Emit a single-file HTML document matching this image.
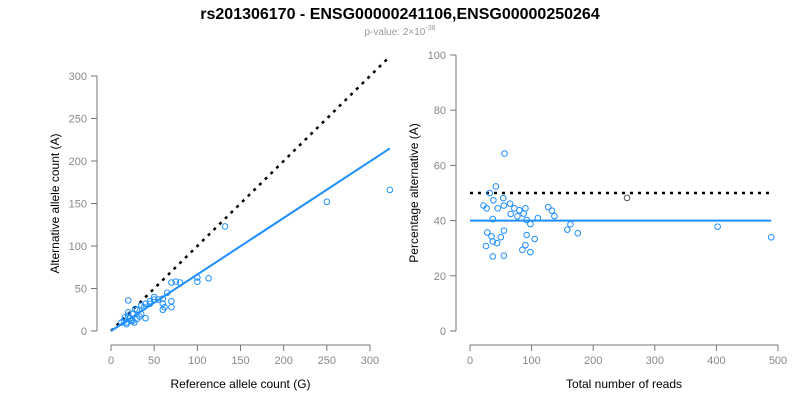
<!DOCTYPE html>
<html><head><meta charset="utf-8"><style>
body{margin:0;background:#fff;}
svg{display:block;font-family:"Liberation Sans",Arial,sans-serif;}
</style></head><body>
<svg id="c" width="800" height="400" viewBox="0 0 800 400">
<text x="400" y="19" text-anchor="middle" font-size="16" font-weight="bold">rs201306170 - ENSG00000241106,ENSG00000250264</text>
<text x="400" y="35" text-anchor="middle" font-size="10" fill="#999">p-value: 2×10<tspan dy="-5" font-size="7">-38</tspan></text>
</svg>
<script>
const refCounts=[323,250,132,113,100,100,70,75,60,60,62,60,70,70,50,50,45,40,35,30,20,25,20,15,18,25,30,35,40,45,28,22,16,12,20,55,38,33,27,23,18,80,65];
const altCounts=[166,152,123,62,63,58,57,58,38,32,28,25,35,28,40,37,35,32,30,25,36,20,18,12,10,12,14,20,15,32,26,15,16,10,22,37,28,17,10,12,8,57,45];
const leftXTicks=[0,50,100,150,200,250,300];
const leftYTicks=[0,50,100,150,200,250,300];
const rightXTicks=[0,100,200,300,400,500];
const rightYTicks=[0,20,40,60,80,100];
const fitSlope=[0.665];
const nullPct=[50];
const fitPct=[40];
const svg=document.getElementById('c');
const NS='http://www.w3.org/2000/svg';
function mk(t,a,p){const e=document.createElementNS(NS,t);for(const k in a)e.setAttribute(k,a[k]);(p||svg).appendChild(e);return e;}
const lx=v=>111+v*0.8633, ly=v=>331-v*0.85;
const rx=v=>470+v*0.616, ry=v=>331-v*2.76;
function axes(xf,yf,xt,yt,x0,y0,xlab,ylab,pre){
  const g=mk('g',{});
  
  
  mk('line',{x1:xf(xt[0]),x2:xf(xt[xt.length-1]),y1:y0,y2:y0,stroke:'#777'},g);
  mk('line',{x1:x0,x2:x0,y1:yf(yt[0]),y2:yf(yt[yt.length-1]),stroke:'#777'},g);
  xt.forEach(v=>{mk('line',{x1:xf(v),x2:xf(v),y1:y0,y2:y0+6,stroke:'#777'},g);
    const t=mk('text',{x:xf(v),y:y0+19,'text-anchor':'middle','font-size':11,fill:'#888'},g);t.textContent=v;
    
    });
  yt.forEach(v=>{mk('line',{x1:x0-6,x2:x0,y1:yf(v),y2:yf(v),stroke:'#777'},g);
    const t=mk('text',{x:x0-10,y:yf(v)+4,'text-anchor':'end','font-size':11,fill:'#888'},g);t.textContent=v;
    
    });
  const xl=mk('text',{x:(xf(xt[0])+xf(xt[xt.length-1]))/2,y:388,'text-anchor':'middle','font-size':12},g);xl.textContent=xlab;
  
  
  const cy=(yf(yt[0])+yf(yt[yt.length-1]))/2, cx=x0-38;
  const yl=mk('text',{x:cx,y:cy,'text-anchor':'middle','font-size':12,transform:`rotate(-90 ${cx} ${cy})`},g);yl.textContent=ylab;
  
  
}
axes(lx,ly,leftXTicks,leftYTicks,97,345,'Reference allele count (G)','Alternative allele count (A)','left');
axes(rx,ry,rightXTicks,rightYTicks,456,345,'Total number of reads','Percentage alternative (A)','right');
const maxRef=Math.max(...refCounts);
let l=mk('line',{x1:lx(0),y1:ly(0),x2:lx(maxRef),y2:ly(maxRef),stroke:'#000','stroke-width':2.5,'stroke-dasharray':'3 5'});


l=mk('line',{x1:lx(0),y1:ly(0),x2:lx(maxRef),y2:ly(maxRef*fitSlope[0]),stroke:'#1e8fff','stroke-width':2});


refCounts.forEach((r,i)=>{const c=mk('circle',{cx:lx(r),cy:ly(altCounts[i]),r:2.8,fill:'none',stroke:'#1e8fff','stroke-width':1});
  
  });
const totals=refCounts.map((r,i)=>r+altCounts[i]);
const maxT=Math.max(...totals);
l=mk('line',{x1:rx(0),y1:ry(nullPct[0]),x2:rx(maxT),y2:ry(nullPct[0]),stroke:'#000','stroke-width':2.5,'stroke-dasharray':'3 5'});


l=mk('line',{x1:rx(0),y1:ry(fitPct[0]),x2:rx(maxT),y2:ry(fitPct[0]),stroke:'#1e8fff','stroke-width':2});


totals.forEach((t,i)=>{const p=100*altCounts[i]/t;
  const c=mk('circle',{cx:rx(t),cy:ry(p),r:2.8,fill:'none',stroke:(t>250&&t<300)?'#555':'#1e8fff','stroke-width':1});
  
  });
</script>
</body></html>
